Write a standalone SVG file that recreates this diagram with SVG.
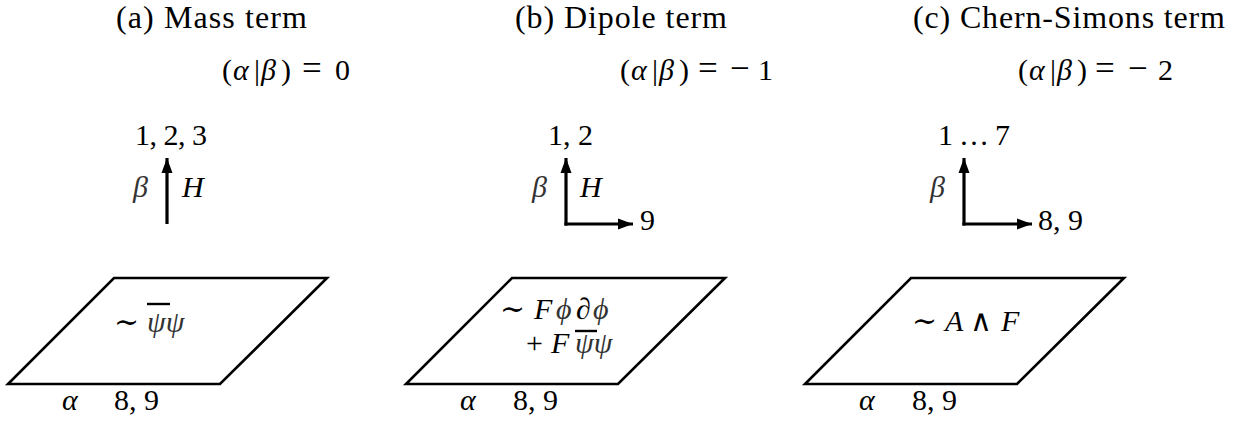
<svg xmlns="http://www.w3.org/2000/svg" width="1248" height="422" viewBox="0 0 1248 422">
<style>
text{font-family:"Liberation Serif","DejaVu Serif",serif;font-size:30px;fill:#000}
.t{font-size:32px}
.o{font-size:35px}
.i{font-style:italic}
.g{font-style:italic;fill:#333}
.plate{fill:none;stroke:#000;stroke-width:2.6;stroke-linejoin:miter}
.axis{fill:none;stroke:#000;stroke-width:3.2}
.bar{stroke:#000;stroke-width:2.4}
</style>
<defs>
<marker id="ah" markerUnits="userSpaceOnUse" markerWidth="16" markerHeight="12" refX="15" refY="6" orient="auto">
<path d="M0,0.5 L15,6 L0,11.5 z" fill="#000"/>
</marker>
</defs>

<!-- Panel (a) -->
<g id="panel-a">
<text class="t" x="116" y="28" textLength="191" lengthAdjust="spacing">(a) Mass term</text>
<text y="80"><tspan x="222">(</tspan><tspan class="i" x="233">α</tspan><tspan x="254">|</tspan><tspan class="i" x="261">β</tspan><tspan x="281">)</tspan><tspan class="o" x="302">=</tspan><tspan x="335">0</tspan></text>
<text x="135" y="145" textLength="72" lengthAdjust="spacing">1, 2, 3</text>
<text x="133" y="197" class="g">β</text>
<text x="182" y="197" class="i">H</text>
</g>
<g id="plate-a">
<polygon class="plate" points="114,278 327,278 220,384 8,384"/>
<text x="114" y="332">∼</text>
<text x="147" y="332" class="g">ψψ</text>
<line class="bar" x1="147" y1="304" x2="170" y2="304"/>
<text x="62" y="410" class="i">α</text>
<text x="114" y="410">8, 9</text>
</g>

<!-- Panel (b) -->
<g id="panel-b">
<text class="t" x="515" y="28" textLength="212" lengthAdjust="spacing">(b) Dipole term</text>
<text y="80"><tspan x="620">(</tspan><tspan class="i" x="631">α</tspan><tspan x="652">|</tspan><tspan class="i" x="659">β</tspan><tspan x="679">)</tspan><tspan class="o" x="698">=</tspan><tspan class="o" x="730">−</tspan><tspan x="758">1</tspan></text>
<text x="548" y="145">1, 2</text>
<text x="532" y="197" class="g">β</text>
<text x="580" y="197" class="i">H</text>
<text x="640" y="230">9</text>
</g>
<g id="plate-b">
<polygon class="plate" points="512,278 725,278 618,384 406,384"/>
<text y="319"><tspan x="500">∼</tspan><tspan class="i" x="534">F</tspan><tspan class="g" x="556">ϕ</tspan><tspan class="i" x="576">∂</tspan><tspan class="g" x="593">ϕ</tspan></text>
<text y="353"><tspan x="526">+</tspan><tspan class="i" x="551">F</tspan><tspan class="g" x="575">ψψ</tspan></text>
<line class="bar" x1="575" y1="331" x2="597" y2="331"/>
<text x="460" y="410" class="i">α</text>
<text x="513" y="410">8, 9</text>
</g>

<!-- Panel (c) -->
<g id="panel-c">
<text class="t" x="913" y="28" textLength="312" lengthAdjust="spacing">(c) Chern-Simons term</text>
<text y="80"><tspan x="1018">(</tspan><tspan class="i" x="1029">α</tspan><tspan x="1050">|</tspan><tspan class="i" x="1057">β</tspan><tspan x="1077">)</tspan><tspan class="o" x="1095">=</tspan><tspan class="o" x="1128">−</tspan><tspan x="1158">2</tspan></text>
<text x="938" y="145" textLength="72" lengthAdjust="spacing">1…7</text>
<text x="930" y="197" class="g">β</text>
<text x="1038" y="230">8, 9</text>
</g>
<g id="plate-c">
<polygon class="plate" points="911,278 1124,278 1017,384 805,384"/>
<text y="331"><tspan x="912">∼</tspan><tspan class="i" x="945">A</tspan><tspan x="970">∧</tspan><tspan class="i" x="1001">F</tspan></text>
<text x="859" y="410" class="i">α</text>
<text x="912" y="410">8, 9</text>
</g>

<!-- Connectors: direction arrows -->
<g id="connectors">
<line class="axis" x1="167" y1="224" x2="167" y2="158" marker-end="url(#ah)"/>
<line class="axis" x1="566" y1="225.6" x2="566" y2="158" marker-end="url(#ah)"/>
<line class="axis" x1="564.4" y1="224" x2="633" y2="224" marker-end="url(#ah)"/>
<line class="axis" x1="964" y1="225.6" x2="964" y2="158" marker-end="url(#ah)"/>
<line class="axis" x1="962.4" y1="224" x2="1032" y2="224" marker-end="url(#ah)"/>
</g>
</svg>
